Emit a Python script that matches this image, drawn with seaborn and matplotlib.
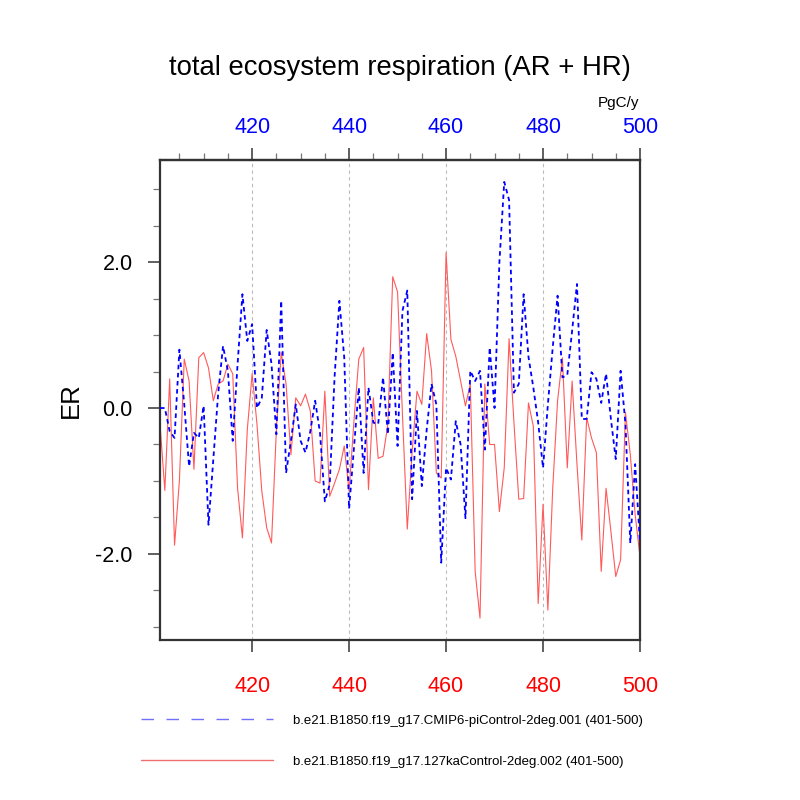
import numpy as np
import pandas as pd
import matplotlib
matplotlib.use("Agg")
import matplotlib.pyplot as plt
from matplotlib.ticker import MultipleLocator, FormatStrFormatter, FixedLocator
from matplotlib.lines import Line2D
import seaborn as sns

years = list(range(401, 501))

er_picontrol = [
    0.0, 0.0, -0.32, -0.41, 0.8, 0.05, -0.8, -0.34, -0.41, 0.03,
    -1.6, -0.7, 0.2, 0.85, 0.51, -0.45, 0.6, 1.56, 0.92, 1.15,
    0.0, 0.14, 1.07, 0.60, -0.36, 1.47, -0.89, -0.45, 0.05, -0.45,
    -0.61, -0.32, 0.1, -0.34, -1.28, -1.05, 0.42, 1.47, 0.69, -1.38,
    -0.55, 0.28, -0.89, 0.28, -0.2, -0.22, 0.42, -0.36, 0.76, -0.52,
    1.33, 1.61, -1.25, -0.04, -1.07, -0.3, 0.33, 0.05, -2.12, -0.82,
    -0.98, -0.18, -0.50, -1.51, 0.51, 0.37, 0.51, -0.57, 0.83, 0.0,
    2.0, 3.10, 2.85, 0.21, 0.33, 1.56, 0.7, 0.28, -0.2, -0.82,
    0.05, 0.83, 1.54, 0.42, 0.45, 1.06, 1.70, -0.15, -0.15, 0.49,
    0.4, 0.07, 0.47, -0.15, -0.70, 0.51, -0.22, -1.85, -0.77, -1.85,
]

er_127ka = [
    -0.22, -1.13, 0.40, -1.88, -1.0, 0.67, 0.37, -0.84, 0.69, 0.76,
    0.55, 0.10, 0.33, 0.37, 0.60, 0.47, -1.10, -1.78, -0.3, 0.47,
    -0.22, -1.14, -1.64, -1.85, -0.3, 0.76, 0.33, -0.64, 0.14, 0.03,
    0.19, -0.04, -1.0, -1.03, 0.23, -1.21, -1.03, -0.84, -0.52, -1.14,
    -0.18, 0.67, 0.83, -1.12, 0.14, -0.69, -0.66, -0.22, 1.80, 1.59,
    -0.08, -1.66, -0.6, 0.23, 0.05, 1.02, 0.51, -0.89, -0.96, 2.13,
    0.94, 0.71, 0.37, 0.03, 0.33, -2.24, -2.88, 0.33, -0.5, -0.5,
    -1.42, -0.82, 0.95, -0.2, -1.25, -1.24, 0.07, -0.25, -2.68, -1.32,
    -2.77, -1.1, 0.1, 0.69, -0.82, 0.37, -0.77, -1.81, -0.13, -0.41,
    -0.61, -2.24, -1.1, -1.69, -2.31, -2.08, -0.06, -0.64, -1.46, -2.04,
]

label_pi = "b.e21.B1850.f19_g17.CMIP6-piControl-2deg.001 (401-500)"
label_127 = "b.e21.B1850.f19_g17.127kaControl-2deg.002 (401-500)"
title = "total ecosystem respiration (AR + HR)"
ylabel = "ER"
units = "PgC/y"
x_major = [420, 440, 460, 480, 500]
y_major = [-2.0, 0.0, 2.0]

df = pd.DataFrame({"year": years, "pi": er_picontrol, "ka": er_127ka})

sns.set_style("white")
plt.rcParams["font.family"] = ["Liberation Sans", "DejaVu Sans"]
plt.rcParams["axes.unicode_minus"] = False
plt.rcParams["text.color"] = "black"
plt.rcParams["axes.labelcolor"] = "black"
plt.rcParams["ytick.labelcolor"] = "black"

fig = plt.figure(figsize=(8, 8), dpi=100)
ax = fig.add_axes([0.2, 0.2, 0.6, 0.6])

for xv in x_major[:-1]:
    ax.axvline(xv, color="#bbbbbb", lw=0.8, ls=(0, (3, 3)), zorder=0)

sns.lineplot(data=df, x="year", y="ka", ax=ax, color="#ff5a5a", lw=0.8, zorder=2)
sns.lineplot(data=df, x="year", y="pi", ax=ax, color="#0000ff", lw=1.3,
             linestyle=(0, (2.5, 2.0)), zorder=3)

ax.set_xlim(401, 500)
ax.set_ylim(-3.18, 3.40)
ax.xaxis.set_major_locator(FixedLocator(x_major))
ax.xaxis.set_minor_locator(MultipleLocator(5))
ax.yaxis.set_major_locator(FixedLocator(y_major))
ax.yaxis.set_minor_locator(MultipleLocator(0.5))
ax.yaxis.set_major_formatter(FormatStrFormatter("%.1f"))

for s in ax.spines.values():
    s.set_linewidth(1.6)
    s.set_color("#333333")

ax.tick_params(axis="both", which="major", direction="out", length=8.6, width=1.2,
               color="#444444", labelsize=15.5, pad=11)
ax.tick_params(axis="both", which="minor", direction="out", length=5, width=0.9,
               color="#777777")
ax.tick_params(axis="x", which="major", bottom=True, top=False, labelcolor="red", pad=17)
ax.tick_params(axis="y", which="both", left=True, right=False, labelcolor="black")

sec = ax.secondary_xaxis("top")
sec.xaxis.set_major_locator(FixedLocator(x_major))
sec.xaxis.set_minor_locator(MultipleLocator(5))
sec.tick_params(axis="x", which="major", direction="out", length=8.6, width=1.2,
                color="#444444", labelsize=15.5, labelcolor="blue", pad=7.5)
sec.tick_params(axis="x", which="minor", direction="out", length=5, width=0.9,
                color="#777777")
sec.spines["top"].set_linewidth(1.6)
sec.spines["top"].set_color("#333333")

ax.set_xlabel("")
ax.set_ylabel(ylabel, fontsize=18.5, labelpad=9, color="black")
fig.text(0.5, 0.915, title, ha="center", va="center", fontsize=19.8, color="black")
fig.text(0.773, 0.871, units, ha="center", va="center", fontsize=11, color="black")

h1 = Line2D([], [], color="#7070ff", lw=1.0, ls=(0, (9, 9)))
h2 = Line2D([], [], color="#f07070", lw=1.0)
leg = fig.legend([h1, h2], [label_pi, label_127], loc="upper left",
                 bbox_to_anchor=(0.176, 0.107), frameon=False, fontsize=9.5,
                 handlelength=10.0, handletextpad=1.5, labelspacing=2.2,
                 borderpad=0, borderaxespad=0)
for t in leg.get_texts():
    t.set_color("black")

fig.savefig("out.png", dpi=100)
